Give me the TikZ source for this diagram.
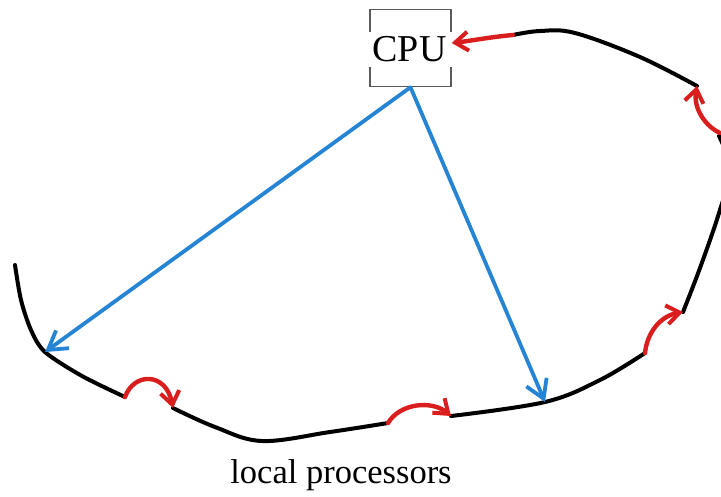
\documentclass[tikz,border=0pt]{standalone}
\usepackage{fontspec}
\setmainfont{Liberation Serif}
\usetikzlibrary{arrows.meta}
\definecolor{penred}{RGB}{218,30,30}
\definecolor{penblue}{RGB}{38,132,212}
\definecolor{boxgray}{RGB}{90,90,90}
\tikzset{
  ring/.style={line width=4pt,black,line cap=round,line join=round},
  pass/.style={line width=4.4pt,penred,line cap=round,
    -{Straight Barb[length=13pt,width=19pt,line width=4pt]}},
  send/.style={line width=3.8pt,penblue,line cap=round,
    -{Straight Barb[length=18pt,width=22pt,line width=3.8pt]}},
  cpubox/.style={draw=boxgray,line width=1.5pt,minimum width=81pt,minimum height=77pt,inner sep=0pt},
  cpulabel/.style={fill=white,inner sep=0pt,minimum width=84pt,minimum height=35pt,font=\fontsize{38}{40}\selectfont},
  caption/.style={font=\fontsize{34.5}{38}\selectfont,inner sep=0pt,anchor=base}
}
\begin{document}
\begin{tikzpicture}[x=1pt,y=-1pt]
\useasboundingbox (0,0) rectangle (721,496);
% CPU
\node[cpubox] (cpu) at (410.5,48) {};
\node[cpulabel] (cpulab) at (409.5,49.5) {CPU};
% points on the ring
\coordinate (a0) at (513,35);
\coordinate (a1) at (697,86);
\coordinate (b0) at (720,133);
\coordinate (b1) at (683,312);
\coordinate (c0) at (645,353);
\coordinate (p2) at (545,402);
\coordinate (c1) at (451,416);
\coordinate (d0) at (388,423);
\coordinate (d1) at (173,408);
\coordinate (e0) at (125,397);
\coordinate (p1) at (45,352);
\coordinate (e1) at (15,265);
% black ring segments
\draw[ring] plot[smooth,tension=0.6] coordinates {(a0) (540,31) (575,33) (640,57) (a1)};
\draw[ring] plot[smooth,tension=0.6] coordinates {(719,136) (730,170) (719,213) (700,268) (b1)};
\draw[ring] plot[smooth,tension=0.6] coordinates {(c0) (600,380) (p2) (c1)};
\draw[ring] plot[smooth,tension=0.6] coordinates {(d0) (330,432) (262,441) (215,427) (d1)};
\draw[ring] plot[smooth,tension=0.5] coordinates {(e0) (82,376) (p1) (31,330) (21,300) (e1)};
% red passing arrows
\draw[pass] (a0) .. controls (490,37) and (470,41) .. (cpu.east |- 0,43);
\draw[pass] (b0) .. controls (705,126) and (693,108) .. (a1);
\draw[pass] (c0) .. controls (647,333) and (660,316) .. (b1);
\draw[pass] (d0) .. controls (400,403) and (432,400) .. (c1);
\draw[pass] (e0) .. controls (134,372) and (166,372) .. (d1);
% blue arrows
\draw[send] (cpu.south) -- (p1);
\draw[send] (cpu.south) -- (p2);
% caption
\node[caption] (cap) at (341,483) {local processors};
\end{tikzpicture}
\end{document}
